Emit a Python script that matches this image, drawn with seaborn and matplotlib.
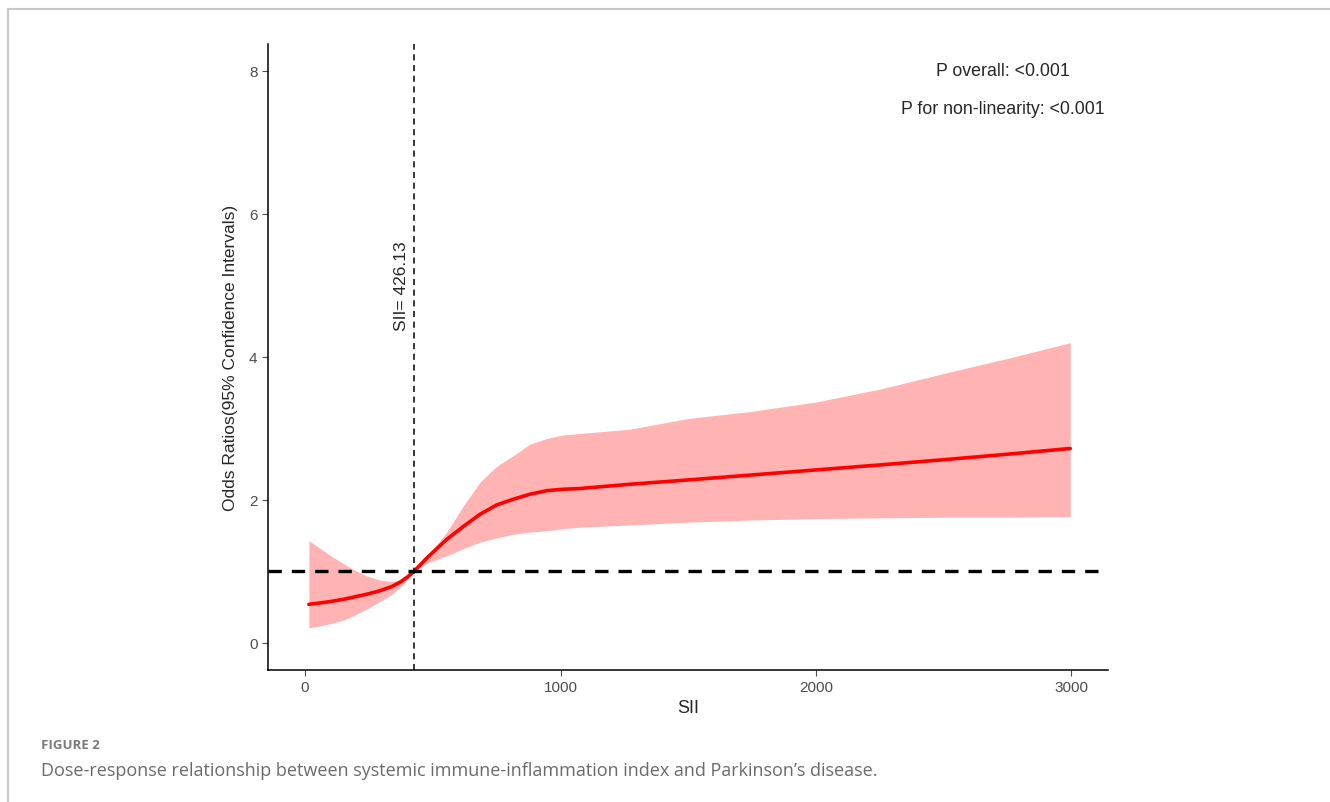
import matplotlib
matplotlib.use("Agg")
import matplotlib.pyplot as plt
from matplotlib.lines import Line2D
import numpy as np
import pandas as pd
import seaborn as sns

# values
sii = [15, 60, 100, 150, 188, 240, 293, 340, 372, 400, 426.13, 480, 555, 620, 685,
       750, 815, 880, 946, 1011, 1076, 1272, 1500, 1750, 2000, 2250, 2524, 2750, 2995]
odds = [0.54, 0.56, 0.58, 0.61, 0.64, 0.68, 0.73, 0.79, 0.85, 0.92, 1.00, 1.20, 1.45, 1.63, 1.80,
        1.93, 2.01, 2.08, 2.13, 2.15, 2.16, 2.22, 2.28, 2.35, 2.42, 2.49, 2.57, 2.64, 2.72]
upper = [1.43, 1.32, 1.22, 1.11, 1.03, 0.94, 0.88, 0.86, 0.88, 0.93, 1.00, 1.22, 1.55, 1.92, 2.25,
         2.47, 2.62, 2.78, 2.86, 2.91, 2.93, 2.99, 3.14, 3.24, 3.37, 3.55, 3.79, 3.98, 4.20]
lower = [0.21, 0.24, 0.27, 0.32, 0.38, 0.47, 0.58, 0.68, 0.78, 0.88, 1.00, 1.12, 1.22, 1.32, 1.41,
         1.47, 1.52, 1.55, 1.57, 1.60, 1.62, 1.65, 1.69, 1.72, 1.74, 1.75, 1.76, 1.76, 1.77]
cutoff = 426.13
p_texts = ["P overall: <0.001", "P for non-linearity: <0.001"]

df = pd.DataFrame({"SII": sii, "OR": odds, "upper": upper, "lower": lower})

sns.set_theme(style="ticks")
plt.rcParams['font.family'] = ['Liberation Sans', 'DejaVu Sans']

fig = plt.figure(figsize=(13.3, 8.03), dpi=100)
ax = fig.add_axes([0.2015, 0.1644, 0.6316, 0.7796])

ax.fill_between(df["SII"], df["lower"], df["upper"], color="#ffb3b3", linewidth=0, zorder=1)
sns.lineplot(data=df, x="SII", y="OR", color="#ff0000", linewidth=2.6, ax=ax, zorder=3)
ax.axhline(1, color="black", linestyle=(0, (4, 3)), linewidth=2.4, zorder=4)
ax.axvline(cutoff, color="black", linestyle=(0, (4, 3)), linewidth=1.1, zorder=4)

ax.text(376, 5.0, f"SII= {cutoff}", rotation=90, ha="center", va="center", fontsize=12.5)
ax.text(2732, 8.0, p_texts[0], ha="center", va="center", fontsize=12.8)
ax.text(2732, 7.48, p_texts[1], ha="center", va="center", fontsize=12.8)

ax.set_xlim(-145, 3143)
ax.set_ylim(-0.378, 8.378)
ax.set_xticks([0, 1000, 2000, 3000])
ax.set_yticks([0, 2, 4, 6, 8])
ax.set_xlabel("SII", fontsize=13, labelpad=3)
ax.set_ylabel("Odds Ratios(95% Confidence Intervals)", fontsize=12.5, labelpad=8)
ax.tick_params(colors="#4d4d4d", labelsize=11, length=4, width=0.8)
for s in ["left", "bottom"]:
    ax.spines[s].set_color("black")
    ax.spines[s].set_linewidth(1.1)
sns.despine(ax=ax)

# page frame and caption
fig.add_artist(Line2D([8 / 1330, 1], [1 - 10 / 803, 1 - 10 / 803], color="#c8c8c8", linewidth=1.5))
fig.add_artist(Line2D([8 / 1330, 8 / 1330], [0, 1 - 10 / 803], color="#c8c8c8", linewidth=1.5))
fig.text(41 / 1330, 1 - 746 / 803, "FIGURE 2", fontsize=9.5, color="#7a7a7a",
         fontweight="bold", family=["Open Sans", "DejaVu Sans"], va="center")
fig.text(41 / 1330, 1 - 771 / 803,
         "Dose-response relationship between systemic immune-inflammation index and Parkinson\u2019s disease.",
         fontsize=13, color="#6a6a6a", family=["Open Sans", "DejaVu Sans"], va="center")

fig.savefig("out.png", dpi=100)
